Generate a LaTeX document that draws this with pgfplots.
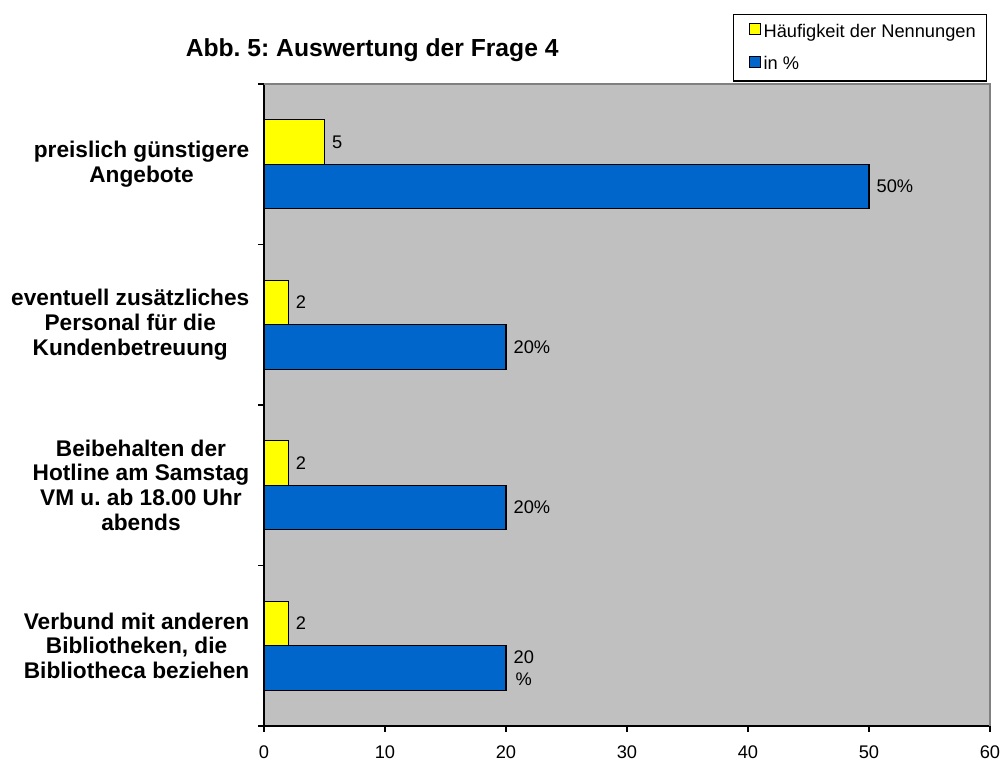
\documentclass[border=0pt]{standalone}
\usepackage{pgfplots}
\pgfplotsset{compat=1.18}
\usepackage{fontspec}
\setmainfont{Liberation Sans}
\frenchspacing
\definecolor{barY}{HTML}{FFFF00}
\definecolor{barB}{HTML}{0066CC}
\definecolor{bgG}{HTML}{C0C0C0}
\definecolor{frG}{HTML}{808080}
\newcommand\twoline{20\\\%}
\begin{document}
\begin{tikzpicture}
\path[use as bounding box] (0,0) rectangle (752.25pt,571.5pt);
\begin{axis}[
  at={(198pt,27pt)}, anchor=south west,
  scale only axis, width=544.5pt, height=481.5pt,
  xmin=0, xmax=60, ymin=-0.5, ymax=3.5,
  xtick={0,10,...,60},
  ytick={-0.5,0.5,1.5,2.5,3.5}, yticklabels={},
  extra y ticks={0,1,2,3},
  extra y tick labels={{Verbund mit anderen\\Bibliotheken, die\\Bibliotheca beziehen},
    {Beibehalten der\\Hotline am Samstag\\VM u. ab 18.00 Uhr\\abends},
    {eventuell zusätzliches\\Personal für die\\Kundenbetreuung},
    {preislich günstigere\\Angebote}},
  extra y tick style={major tick length=0pt, yticklabel style={align=center, font=\fontsize{17}{18.6}\selectfont\bfseries, xshift=-7.5pt}},
  axis lines=left, axis line style={-, black, line width=0.9pt},
  tick align=outside, major tick length=4.5pt,
  tick style={black, line width=0.9pt},
  ticklabel style={font=\fontsize{13.7}{16}\selectfont},
  xticklabel style={yshift=-7pt},
  /pgf/number format/assume math mode=true,
  axis background/.style={fill=bgG},
  xbar, bar width=33.5pt,
  point meta=explicit symbolic,
  nodes near coords,
  every node near coord/.append style={font=\fontsize{13.7}{16.5}\selectfont, align=center, anchor=west, xshift=2pt},
  clip=false,
  legend style={at={(0.9959,1.109)}, anchor=north east, draw=black, line width=0.8pt,
    font=\fontsize{13.7}{16}\selectfont, row sep=9pt, inner xsep=6pt, inner ysep=5pt},
  legend cell align=left,
  legend image code/.code={\path (-9pt,0pt); \draw[#1, line width=0.8pt] (-4pt,-2.5pt) rectangle (4.5pt,6pt);},
]
\addplot[draw=black, line width=0.8pt, fill=barY, bar shift=16.75pt] coordinates {
  (5,3) [5] (2,2) [2] (2,1) [2] (2,0) [2]};
\addplot[draw=black, line width=0.8pt, fill=barB, bar shift=-16.75pt] coordinates {
  (50,3) [50\%] (20,2) [20\%] (20,1) [20\%] (20,0) [\twoline]};
\legend{Häufigkeit der Nennungen, in \%}
\draw[frG, line width=0.8pt] (rel axis cs:0,1) -- (rel axis cs:1,1) -- (rel axis cs:1,0);
\node[font=\fontsize{18.5}{21}\selectfont\bfseries] at (rel axis cs:0.149,1.053) {Abb. 5: Auswertung der Frage 4};
\end{axis}
\end{tikzpicture}
\end{document}
